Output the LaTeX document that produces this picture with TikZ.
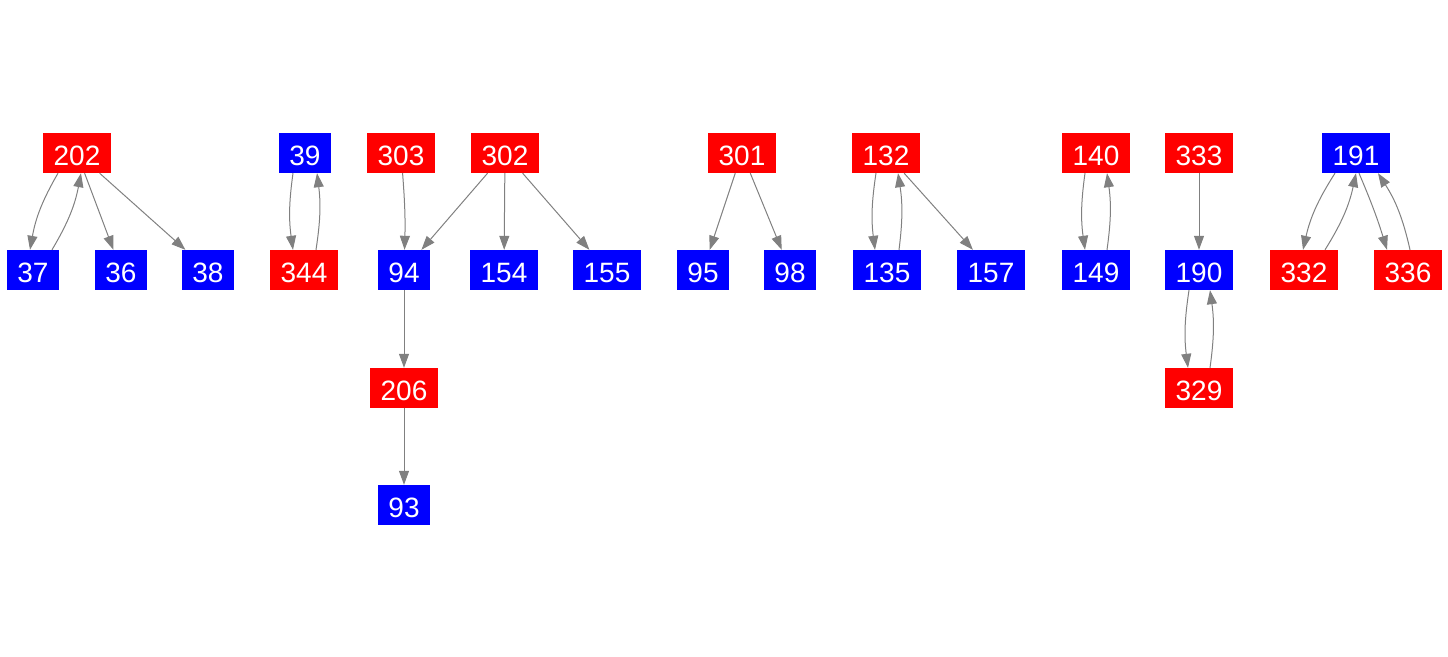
\documentclass[tikz,border=0pt]{standalone}
\usepackage{fontspec}
\setmainfont{Liberation Sans}
\usetikzlibrary{arrows.meta}
\definecolor{nred}{HTML}{FF0000}
\definecolor{nblue}{HTML}{0000FF}
\definecolor{egray}{HTML}{808080}
\begin{document}
\begin{tikzpicture}[x=1pt,y=-1pt,
 box/.style={inner xsep=10.5pt, inner ysep=0pt, minimum height=40pt, text height=24pt, text depth=0pt, text=white, font=\fontsize{28}{30}\selectfont},
 rbox/.style={box, fill=nred},
 bbox/.style={box, fill=nblue},
 edge/.style={draw=egray, line width=1pt, -{Triangle[length=14pt,width=10pt]}}]
\useasboundingbox (0,0) rectangle (1448,656);
% row 1
\node[rbox] (n202) at (77,153) {202};
\node[bbox] (n39) at (305,153) {39};
\node[rbox] (n303) at (401,153) {303};
\node[rbox] (n302) at (505,153) {302};
\node[rbox] (n301) at (742,153) {301};
\node[rbox] (n132) at (886,153) {132};
\node[rbox] (n140) at (1096,153) {140};
\node[rbox] (n333) at (1199,153) {333};
\node[bbox] (n191) at (1356,153) {191};
% row 2
\node[bbox] (n37) at (33,270) {37};
\node[bbox] (n36) at (121,270) {36};
\node[bbox] (n38) at (208,270) {38};
\node[rbox] (n344) at (304,270) {344};
\node[bbox] (n94) at (404,270) {94};
\node[bbox] (n154) at (504,270) {154};
\node[bbox] (n155) at (607,270) {155};
\node[bbox] (n95) at (703,270) {95};
\node[bbox] (n98) at (790,270) {98};
\node[bbox] (n135) at (887,270) {135};
\node[bbox] (n157) at (991,270) {157};
\node[bbox] (n149) at (1096,270) {149};
\node[bbox] (n190) at (1199,270) {190};
\node[rbox] (n332) at (1304,270) {332};
\node[rbox] (n336) at (1408,270) {336};
% row 3, 4
\node[rbox] (n206) at (404,388) {206};
\node[rbox] (n329) at (1199,388) {329};
\node[bbox] (n93) at (404,505) {93};
% edges
\draw[edge] ([xshift=-19pt]n202.south) to[bend right=10] ([xshift=-3pt]n37.north);
\draw[edge] ([xshift=19pt]n37.north) to[bend right=10] ([xshift=4pt]n202.south);
\draw[edge] (n202) -- (n36);
\draw[edge] (n202) -- (n38);
\draw[edge] ([xshift=-12pt]n39.south) to[bend right=8] ([xshift=-11pt]n344.north);
\draw[edge] ([xshift=12pt]n344.north) to[bend right=8] ([xshift=12pt]n39.south);
\draw[edge] (n303) to[bend left=3] (n94);
\draw[edge] (n302) -- (n94);
\draw[edge] (n302) -- (n154);
\draw[edge] (n302) -- (n155);
\draw[edge] (n94) -- (n206);
\draw[edge] (n206) -- (n93);
\draw[edge] (n301) -- (n95);
\draw[edge] (n301) -- (n98);
\draw[edge] ([xshift=-10pt]n132.south) to[bend right=8] ([xshift=-12pt]n135.north);
\draw[edge] ([xshift=12pt]n135.north) to[bend right=8] ([xshift=12pt]n132.south);
\draw[edge] (n132) -- (n157);
\draw[edge] ([xshift=-11pt]n140.south) to[bend right=8] ([xshift=-11pt]n149.north);
\draw[edge] ([xshift=11pt]n149.north) to[bend right=8] ([xshift=11pt]n140.south);
\draw[edge] (n333) -- (n190);
\draw[edge] ([xshift=-10pt]n190.south) to[bend right=8] ([xshift=-11pt]n329.north);
\draw[edge] ([xshift=11pt]n329.north) to[bend right=8] ([xshift=11pt]n190.south);
\draw[edge] ([xshift=-21pt]n191.south) to[bend right=10] ([xshift=-1pt]n332.north);
\draw[edge] ([xshift=21pt]n332.north) to[bend right=10] ([xshift=0pt]n191.south);
\draw[edge] ([xshift=3pt]n191.south) to[bend left=3] ([xshift=-21pt]n336.north);
\draw[edge] ([xshift=2pt]n336.north) to[bend right=10] ([xshift=22pt]n191.south);
\end{tikzpicture}
\end{document}
